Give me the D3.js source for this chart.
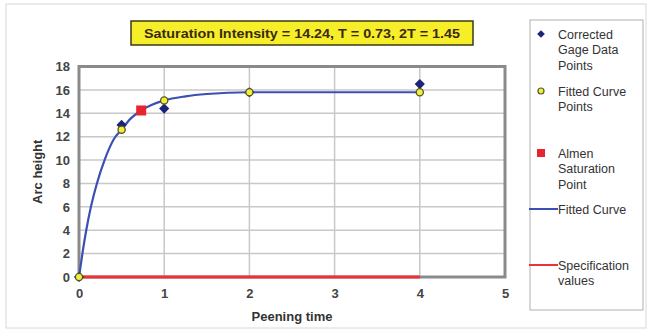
<!DOCTYPE html>
<html>
<head>
<meta charset="utf-8">
<script src="https://cdn.jsdelivr.net/npm/d3@7"></script>
<style>
  body { margin: 0; background: #fff; }
  text { font-family: "Liberation Sans", Arial, sans-serif; }
</style>
</head>
<body>
<svg width="649" height="333"></svg>
<script>
// gage readings
const gageTime = [0, 0.5, 1, 2, 4];
const gageArc = [0, 13.0, 14.4, 15.8, 16.5];
// fitted curve points
const fitPtTime = [0, 0.5, 1, 2, 4];
const fitPtArc = [0, 12.6, 15.1, 15.8, 15.8];
// fitted curve
const curveTime = [0, 0.04, 0.085, 0.14, 0.21, 0.3, 0.41, 0.5, 0.6, 0.73, 0.85, 1, 1.25, 1.5, 2, 3, 4];
const curveArc = [0, 2, 4, 6, 8, 10, 11.8, 12.6, 13.5, 14.24, 14.7, 15.1, 15.45, 15.65, 15.8, 15.8, 15.8];
// almen saturation point
const satTime = [0.73];
const satArc = [14.24];
// specification line
const specTime = [0, 4];
const specArc = [0, 0];

const xTicks = [0, 1, 2, 3, 4, 5];
const yTicks = [0, 2, 4, 6, 8, 10, 12, 14, 16, 18];
const titleText = "Saturation Intensity = 14.24, T = 0.73, 2T = 1.45";

const plot = {left: 79, right: 505, top: 66.5, bottom: 277};

const svg = d3.select("svg");

// outer frame
svg.append("rect")
    .attr("x", 6).attr("y", 4).attr("width", 640).attr("height", 324)
    .style("fill", "#fff").style("stroke", "#d8d8d8").style("stroke-width", 1);

const x = d3.scaleLinear().domain([0, 5]).range([plot.left, plot.right]);
const y = d3.scaleLinear().domain([0, 18]).range([plot.bottom, plot.top]);

// gridlines
svg.append("g")
    .selectAll("line")
    .data(xTicks.slice(1, -1))
    .enter().append("line")
        .attr("x1", d => x(d)).attr("x2", d => x(d))
        .attr("y1", plot.top).attr("y2", plot.bottom)
        .style("stroke", "#c8c8c8").style("stroke-width", 1.5);

svg.append("g")
    .selectAll("line")
    .data(yTicks.slice(1, -1))
    .enter().append("line")
        .attr("x1", plot.left).attr("x2", plot.right)
        .attr("y1", d => y(d)).attr("y2", d => y(d))
        .style("stroke", "#c8c8c8").style("stroke-width", 1.5);

// plot border
svg.append("rect")
    .attr("x", plot.left).attr("y", plot.top)
    .attr("width", plot.right - plot.left).attr("height", plot.bottom - plot.top)
    .style("fill", "none").style("stroke", "#8a8a8a").style("stroke-width", 3);

// axes (labels only, the border is the axis line)
const xAxis = svg.append("g")
    .attr("transform", "translate(0," + plot.bottom + ")")
    .call(d3.axisBottom(x).tickValues(xTicks).tickFormat(d3.format("d")).tickSize(0).tickPadding(12));
const yAxis = svg.append("g")
    .attr("transform", "translate(" + plot.left + ",0)")
    .call(d3.axisLeft(y).tickValues(yTicks).tickFormat(d3.format("d")).tickSize(0).tickPadding(9));
[xAxis, yAxis].forEach(a => {
    a.select(".domain").remove();
    a.selectAll("text")
        .style("font-size", "13px").style("font-weight", "bold").style("fill", "#444")
        .style("font-family", "'Liberation Sans', Arial, sans-serif");
});

// axis titles
svg.append("text")
    .attr("x", (plot.left + plot.right) / 2).attr("y", 321)
    .attr("text-anchor", "middle")
    .style("font-size", "13px").style("font-weight", "bold").style("fill", "#333")
    .text("Peening time");
svg.append("text")
    .attr("transform", "translate(42," + ((plot.top + plot.bottom) / 2) + ")rotate(-90)")
    .attr("text-anchor", "middle")
    .style("font-size", "13px").style("font-weight", "bold").style("fill", "#333")
    .text("Arc height");

// specification line
const line = d3.line().x(d => x(d[0])).y(d => y(d[1]));
svg.append("path")
    .datum(specTime.map((t, i) => [t, specArc[i]]))
    .attr("d", line)
    .style("fill", "none").style("stroke", "#e8333a").style("stroke-width", 3);

// fitted curve
svg.append("path")
    .datum(curveTime.map((t, i) => [t, curveArc[i]]))
    .attr("d", line.curve(d3.curveMonotoneX))
    .style("fill", "none").style("stroke", "#3c4fb4").style("stroke-width", 2.2);

// gage points (diamonds)
svg.append("g")
    .selectAll("path")
    .data(gageTime.map((t, i) => [t, gageArc[i]]))
    .enter().append("path")
        .attr("transform", d => "translate(" + x(d[0]) + "," + y(d[1]) + ")rotate(45)")
        .attr("d", d3.symbol(d3.symbolSquare, 52))
        .style("fill", "#1e237a");

// fitted points (circles)
svg.append("g")
    .selectAll("circle")
    .data(fitPtTime.map((t, i) => [t, fitPtArc[i]]))
    .enter().append("circle")
        .attr("cx", d => x(d[0])).attr("cy", d => y(d[1])).attr("r", 3.6)
        .style("fill", "#f2ef3a").style("stroke", "#55552a").style("stroke-width", 1.3);

// saturation point
svg.append("g")
    .selectAll("rect")
    .data(satTime.map((t, i) => [t, satArc[i]]))
    .enter().append("rect")
        .attr("x", d => x(d[0]) - 5).attr("y", d => y(d[1]) - 5)
        .attr("width", 10).attr("height", 10)
        .style("fill", "#e8252e");

// title box
svg.append("rect")
    .attr("x", 131).attr("y", 21).attr("width", 342).attr("height", 24)
    .style("fill", "#f7ee2a").style("stroke", "#3a3a1a").style("stroke-width", 1.5);
svg.append("text")
    .attr("x", 302).attr("y", 38).attr("text-anchor", "middle")
    .attr("textLength", 316).attr("lengthAdjust", "spacingAndGlyphs")
    .style("font-size", "13.5px").style("font-weight", "bold").style("fill", "#3a2a10")
    .text(titleText);

// legend
const lg = svg.append("g");
lg.append("rect")
    .attr("x", 530).attr("y", 20).attr("width", 113).attr("height", 290)
    .style("fill", "#fff").style("stroke", "#b0b0b0").style("stroke-width", 1);

const legendItems = [
    {lines: ["Corrected", "Gage Data", "Points"], y: 34, mark: "diamond"},
    {lines: ["Fitted Curve", "Points"], y: 91, mark: "circle"},
    {lines: ["Almen", "Saturation", "Point"], y: 153, mark: "square"},
    {lines: ["Fitted Curve"], y: 209, mark: "blue"},
    {lines: ["Specification", "values"], y: 265, mark: "red"}
];

legendItems.forEach(it => {
    const g = lg.append("g");
    if (it.mark === "diamond") {
        g.append("path")
            .attr("transform", "translate(541," + it.y + ")rotate(45)")
            .attr("d", d3.symbol(d3.symbolSquare, 30))
            .style("fill", "#1e237a");
    } else if (it.mark === "circle") {
        g.append("circle").attr("cx", 541).attr("cy", it.y).attr("r", 3)
            .style("fill", "#f2ef3a").style("stroke", "#55552a").style("stroke-width", 1.2);
    } else if (it.mark === "square") {
        g.append("rect").attr("x", 537).attr("y", it.y - 4).attr("width", 8).attr("height", 8)
            .style("fill", "#e8252e");
    } else {
        g.append("line").attr("x1", 529).attr("x2", 558).attr("y1", it.y).attr("y2", it.y)
            .style("stroke", it.mark === "blue" ? "#3c4fb4" : "#e8333a").style("stroke-width", 2);
    }
    const t = g.append("text")
        .attr("x", 558).attr("y", it.y + 4.5)
        .style("font-size", "12.5px").style("fill", "#333");
    it.lines.forEach((s, i) => {
        t.append("tspan").attr("x", 558).attr("dy", i === 0 ? 0 : 15.5).text(s);
    });
});
</script>
</body>
</html>
